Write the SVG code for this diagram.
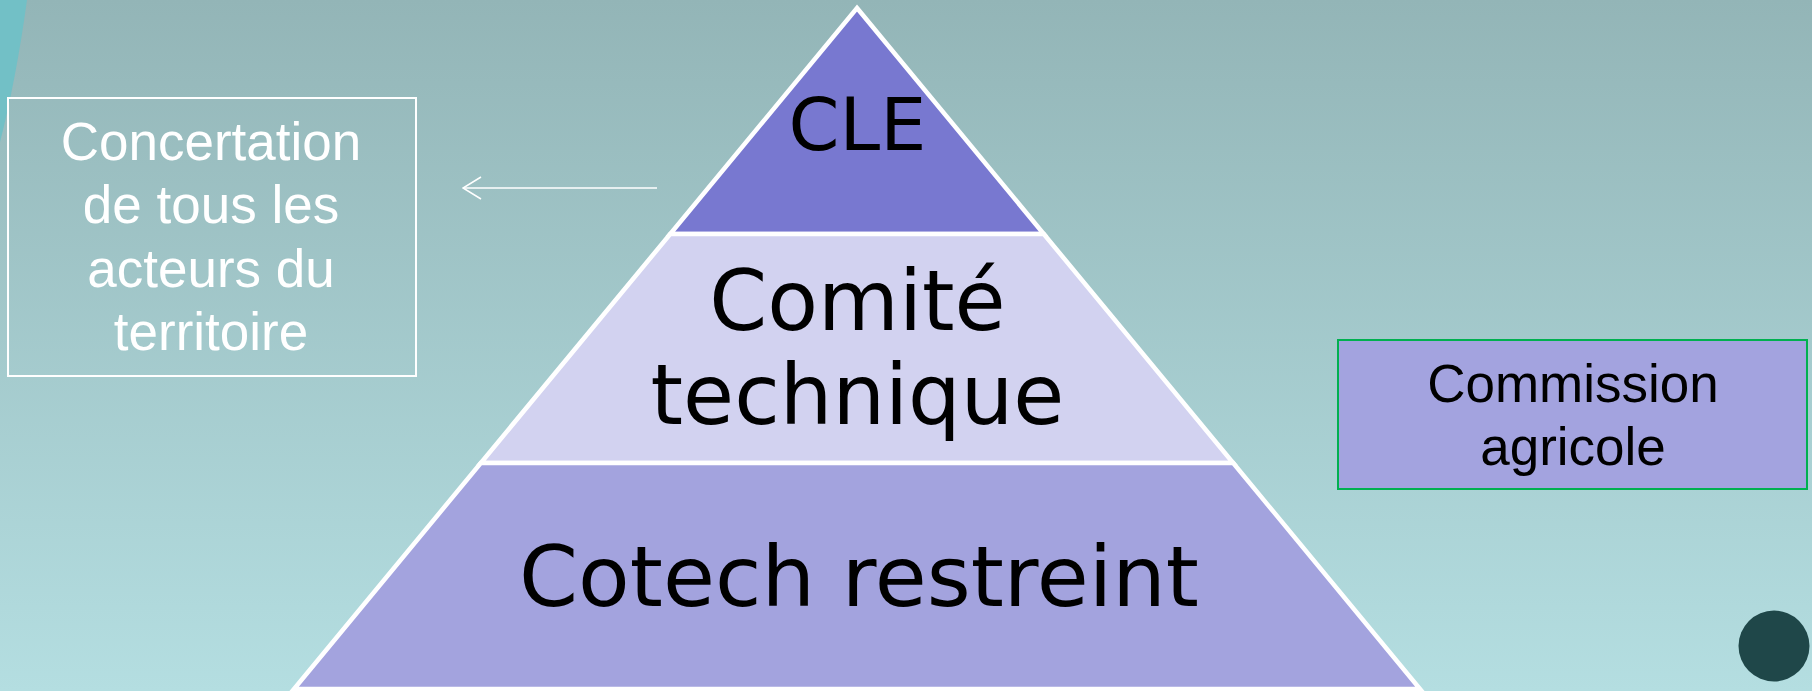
<svg xmlns="http://www.w3.org/2000/svg" width="1812" height="691" viewBox="0 0 1812 691">
<defs>
<linearGradient id="bg" x1="0" y1="0" x2="0" y2="1">
<stop offset="0" stop-color="#93b5b7"/>
<stop offset="1" stop-color="#b4dee1"/>
</linearGradient>
<marker id="open" viewBox="0 0 20 24" refX="19" refY="12" markerWidth="20" markerHeight="24" markerUnits="userSpaceOnUse" orient="auto">
<path d="M1,1 L19,12 L1,23" fill="none" stroke="#ffffff" stroke-width="1.5"/>
</marker>
<style>
.band{stroke:#ffffff;stroke-width:4.5;stroke-linejoin:miter}
.pt{font-family:"DejaVu Sans",Verdana,sans-serif;fill:#000000;text-anchor:middle}
.lt{font-family:"Liberation Sans",Arial,sans-serif;font-size:53px;text-anchor:middle}
</style>
</defs>
<rect x="0" y="0" width="1812" height="691" fill="url(#bg)"/>
<path d="M0,0 L27,0 Q16,80 0,142 Z" fill="#72c0c6"/>
<g id="connectors">
<line x1="657" y1="188" x2="463" y2="188" stroke="#ffffff" stroke-width="1.5" marker-end="url(#open)"/>
</g>
<g id="cle">
<polygon class="band" points="857,8 1043.8,234 670.2,234" fill="#7878d0"/>
<text class="pt" x="857.5" y="150" font-size="73">CLE</text>
</g>
<g id="comite">
<polygon class="band" points="670.2,234 1043.8,234 1233.2,463 480.8,463" fill="#d2d2f0"/>
<text class="pt" x="857.5" y="330" font-size="83">Comité</text>
<text class="pt" x="857.5" y="424" font-size="83">technique</text>
</g>
<g id="cotech">
<polygon class="band" points="480.8,463 1233.2,463 1420,689 294,689" fill="#a3a3de"/>
<text class="pt" x="859" y="606" font-size="84.5">Cotech restreint</text>
</g>
<g id="concertation">
<rect x="8" y="98" width="408" height="278" fill="none" stroke="#ffffff" stroke-width="2"/>
<text class="lt" fill="#ffffff"><tspan x="211" y="160">Concertation</tspan><tspan x="211" y="223">de tous les</tspan><tspan x="211" y="287">acteurs du</tspan><tspan x="211" y="350">territoire</tspan></text>
</g>
<g id="commission">
<rect x="1338" y="340" width="469" height="149" fill="#a3a3df" stroke="#00b050" stroke-width="2"/>
<text class="lt" fill="#000000"><tspan x="1573" y="402">Commission</tspan><tspan x="1573" y="465">agricole</tspan></text>
</g>
<circle id="dot" cx="1774" cy="646" r="35.5" fill="#1f4749"/>
</svg>
